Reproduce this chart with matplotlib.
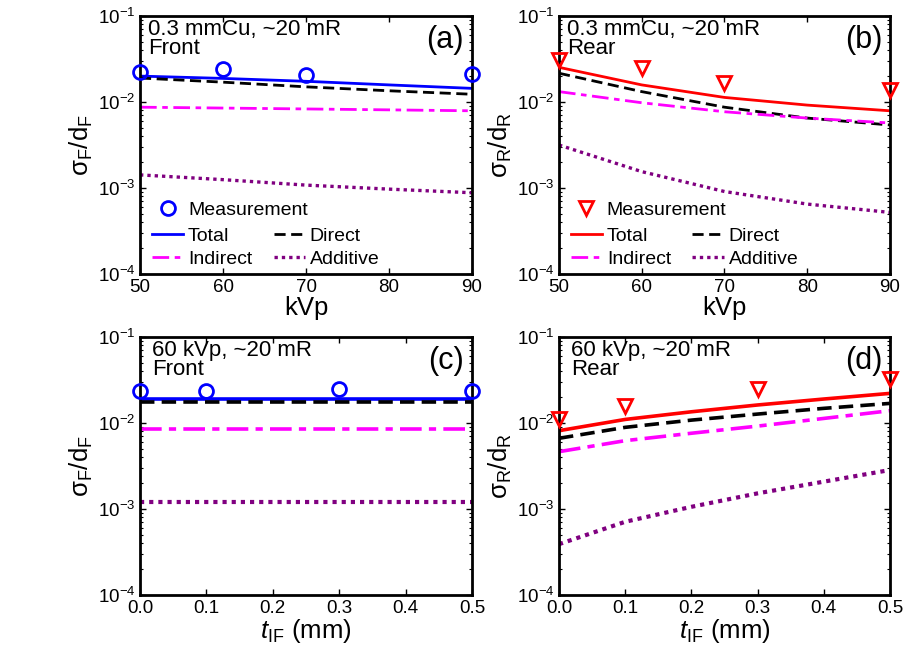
import matplotlib
matplotlib.use('Agg')
import matplotlib.pyplot as plt
from matplotlib.lines import Line2D
from matplotlib.ticker import LogLocator, NullFormatter, FormatStrFormatter

plt.rcParams['font.family'] = ['Liberation Sans', 'DejaVu Sans']
plt.rcParams['mathtext.fontset'] = 'custom'
plt.rcParams['mathtext.rm'] = 'Liberation Sans'
plt.rcParams['mathtext.it'] = 'Liberation Sans:italic'
plt.rcParams['mathtext.bf'] = 'Liberation Sans:bold'

# x values
kvp = [50, 60, 70, 80, 90]
kvp_meas = [50, 60, 70, 90]
tif = [0.0, 0.1, 0.2, 0.3, 0.4, 0.5]
tif_meas = [0.0, 0.1, 0.3, 0.5]

# (a) front vs kVp
a_meas = [0.0225, 0.0242, 0.0206, 0.0212]
a_total = [0.0200, 0.0188, 0.0174, 0.0158, 0.0144]
a_direct = [0.0190, 0.0170, 0.0150, 0.0135, 0.0123]
a_indirect = [0.0087, 0.0085, 0.0083, 0.0081, 0.0079]
a_additive = [0.00142, 0.00125, 0.00108, 0.00097, 0.00088]

# (b) rear vs kVp
b_meas = [0.0310, 0.0250, 0.0168, 0.0138]
b_total = [0.0253, 0.0158, 0.0113, 0.0092, 0.0079]
b_direct = [0.0216, 0.0132, 0.0087, 0.0065, 0.0054]
b_indirect = [0.0132, 0.0098, 0.0077, 0.0065, 0.0057]
b_additive = [0.00316, 0.00155, 0.00091, 0.00065, 0.00052]

# (c) front vs t_IF
c_meas = [0.0238, 0.0236, 0.0247, 0.0238]
c_total = [0.0188] * 6
c_direct = [0.0174] * 6
c_indirect = [0.0085] * 6
c_additive = [0.00121] * 6

# (d) rear vs t_IF
d_meas = [0.0111, 0.0156, 0.0250, 0.0328]
d_total = [0.00814, 0.0110, 0.0135, 0.0162, 0.0190, 0.0221]
d_direct = [0.00664, 0.0089, 0.0108, 0.0127, 0.0148, 0.0169]
d_indirect = [0.00464, 0.00623, 0.0076, 0.0092, 0.0113, 0.0139]
d_additive = [0.00039, 0.00071, 0.00106, 0.00152, 0.00208, 0.00284]

purple = (0.5, 0, 0.5)
fig = plt.figure(figsize=(9.23, 6.66), dpi=100)

ax_a = fig.add_axes([0.1517, 0.5886, 0.3597, 0.3874])
ax_b = fig.add_axes([0.6056, 0.5886, 0.3586, 0.3874])
ax_c = fig.add_axes([0.1517, 0.1066, 0.3597, 0.3874])
ax_d = fig.add_axes([0.6056, 0.1066, 0.3586, 0.3874])

panels = [
    (ax_a, kvp, kvp_meas, a_meas, a_total, a_direct, a_indirect, a_additive, 'b', 'o',
     '0.3 mmCu, ~20 mR\nFront', '(a)', 'F', True, 0.024),
    (ax_b, kvp, kvp_meas, b_meas, b_total, b_direct, b_indirect, b_additive, 'r', 'v',
     '0.3 mmCu, ~20 mR\nRear', '(b)', 'R', True, 0.024),
    (ax_c, tif, tif_meas, c_meas, c_total, c_direct, c_indirect, c_additive, 'b', 'o',
     '60 kVp, ~20 mR\nFront', '(c)', 'F', False, 0.036),
    (ax_d, tif, tif_meas, d_meas, d_total, d_direct, d_indirect, d_additive, 'r', 'v',
     '60 kVp, ~20 mR\nRear', '(d)', 'R', False, 0.036),
]

for (ax, x, xm, meas, tot, dire, ind, add, col, mk, txt, lab, sub, top, tx) in panels:
    lw = 2.0 if top else 2.6
    ax.plot(x, tot, '-', color=col, lw=lw)
    ax.plot(x, dire, '--', color='k', lw=lw, dashes=(4, 2))
    ax.plot(x, ind, '-.', color=(1, 0, 1), lw=lw, dashes=(6, 2, 2, 2))
    ax.plot(x, add, ':', color=purple, lw=lw + 0.4, dashes=(1, 1.2))
    ax.plot(xm, meas, mk, mfc='none', mec=col, mew=2, ms=10, clip_on=False, zorder=5)

    ax.set_yscale('log')
    ax.set_ylim(1e-4, 1e-1)
    ax.yaxis.set_major_locator(LogLocator(base=10, numticks=10))
    ax.yaxis.set_minor_locator(LogLocator(base=10, subs=range(2, 10), numticks=10))
    ax.yaxis.set_minor_formatter(NullFormatter())
    if top:
        ax.set_xlim(50, 90)
        ax.set_xticks([50, 60, 70, 80, 90])
        ax.set_xlabel('kVp', fontsize=18.5, labelpad=0)
    else:
        ax.set_xlim(0, 0.5)
        ax.set_xticks([0.0, 0.1, 0.2, 0.3, 0.4, 0.5])
        ax.xaxis.set_major_formatter(FormatStrFormatter('%.1f'))
        ax.set_xlabel(r'$t_{\mathrm{IF}}$ (mm)', fontsize=18.5, labelpad=0)
    ax.set_ylabel(r'$\mathregular{σ_%s/d_%s}$' % (sub, sub), fontsize=18.5, labelpad=2)

    ax.tick_params(which='both', direction='in', top=True, right=True, labelsize=13.5)
    ax.tick_params(which='major', length=4, width=1)
    ax.tick_params(which='minor', length=2, width=0.8)
    for s in ax.spines.values():
        s.set_linewidth(2)

    ax.text(tx, 0.99, txt, transform=ax.transAxes, ha='left', va='top',
            fontsize=16, linespacing=0.9)
    ax.text(0.976, 0.965, lab, transform=ax.transAxes, ha='right', va='top',
            fontsize=22)

    if top:
        h_meas = Line2D([], [], ls='none', marker=mk, mfc='none', mec=col, mew=2, ms=10)
        h_tot = Line2D([], [], color=col, lw=2)
        h_dir = Line2D([], [], color='k', lw=2, ls='--', dashes=(4, 2))
        h_ind = Line2D([], [], color=(1, 0, 1), lw=2, ls='-.', dashes=(6, 2, 2, 2))
        h_add = Line2D([], [], color=purple, lw=2.4, ls=':', dashes=(1, 1.2))
        leg1 = ax.legend([h_meas], ['Measurement'], loc='lower left', frameon=False,
                         fontsize=14, handlelength=1.6, handletextpad=0.25,
                         borderpad=0, borderaxespad=0, bbox_to_anchor=(0.036, 0.215))
        ax.add_artist(leg1)
        ax.legend([h_tot, h_ind, h_dir, h_add],
                  ['Total', 'Indirect', 'Direct', 'Additive'],
                  ncol=2, loc='lower left', frameon=False, fontsize=14,
                  handlelength=1.6, handletextpad=0.25, columnspacing=1.1,
                  labelspacing=0.3, borderpad=0, borderaxespad=0,
                  bbox_to_anchor=(0.036, 0.023))

fig.savefig('out.png', dpi=100)
